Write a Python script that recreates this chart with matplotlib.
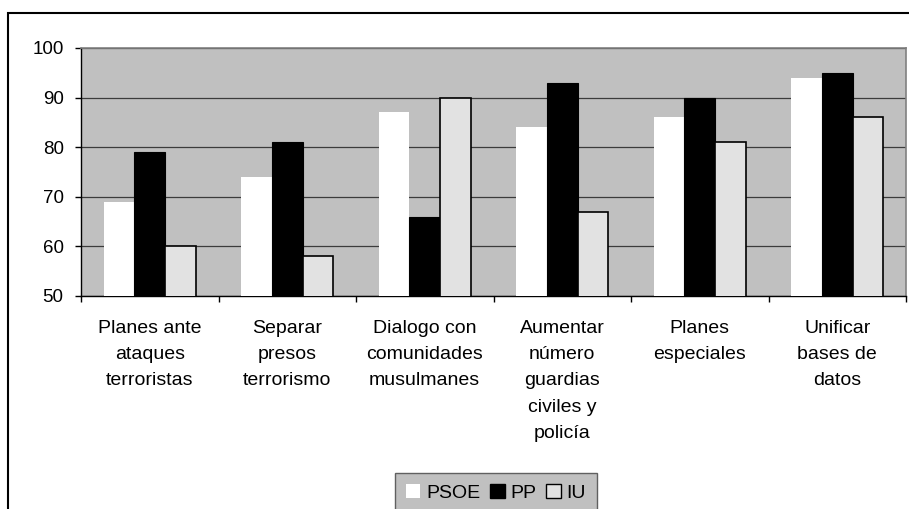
import numpy as np
import matplotlib.pyplot as plt
from matplotlib.patches import Patch, Rectangle

plt.rcParams['font.family'] = ['Liberation Sans', 'DejaVu Sans']

#%% Data
categorias = ['Planes ante\nataques\nterroristas',
              'Separar\npresos\nterrorismo',
              'Dialogo con\ncomunidades\nmusulmanes',
              'Aumentar\nnúmero\nguardias\nciviles y\npolicía',
              'Planes\nespeciales',
              'Unificar\nbases de\ndatos']
psoe = [69, 74, 87, 84, 86, 94]
pp = [79, 81, 66, 93, 90, 95]
iu = [60, 58, 90, 67, 81, 86]
partidos = ['PSOE', 'PP', 'IU']

#%% Figure
fig = plt.figure(figsize=(9.09, 5.09), dpi=100)
# outer chart border (cropped at right / bottom like the original)
fig.patches.append(Rectangle((8/909, -0.1), 1.1, 1 - 13/509 + 0.1, transform=fig.transFigure,
                             fill=False, edgecolor='black', linewidth=1.5, zorder=0))

ax = fig.add_axes([81/909, 1 - 296/509, 825/909, 248/509])
ax.set_facecolor('#c0c0c0')

x = np.arange(len(categorias))
w = 0.224
ax.bar(x - w, psoe, w, color='white', edgecolor='none', zorder=3)
ax.bar(x, pp, w, color='black', edgecolor='black', linewidth=0.8, zorder=3)
ax.bar(x + w, iu, w, color='#e2e2e2', edgecolor='black', linewidth=1.2, zorder=3)

ax.set_ylim(50, 100)
ax.set_xlim(-0.5, len(categorias) - 0.5)
ax.set_yticks(np.arange(50, 101, 10))
ax.yaxis.grid(True, color='#3c3c3c', linewidth=0.9, zorder=1)
ax.set_axisbelow(True)

ax.set_xticks(x)
ax.set_xticklabels(categorias, fontsize=14, linespacing=1.72, va='top')
ax.set_xticks(np.arange(-0.5, len(categorias)), minor=True)
ax.tick_params(axis='x', which='major', length=0, pad=17)
ax.tick_params(axis='x', which='minor', length=4.5, width=1, color='black', direction='out')
ax.tick_params(axis='y', length=4.5, width=1, pad=8, labelsize=13.5, color='black')

for s in ['left', 'bottom']:
    ax.spines[s].set_color('black')
    ax.spines[s].set_linewidth(1)
for s in ['top', 'right']:
    ax.spines[s].set_color('#808080')
    ax.spines[s].set_linewidth(1.2)

handles = [Patch(facecolor='white', edgecolor='none'),
           Patch(facecolor='black', edgecolor='black'),
           Patch(facecolor='#e2e2e2', edgecolor='black', linewidth=1)]
leg = fig.legend(handles, partidos, loc='upper left', bbox_to_anchor=(395/909, 1 - 473/509),
                 ncol=3, fontsize=14, frameon=True, fancybox=False,
                 handlelength=0.75, handleheight=0.75, handletextpad=0.3, columnspacing=0.5,
                 borderpad=0.55, borderaxespad=0)
leg.get_frame().set_facecolor('#c0c0c0')
leg.get_frame().set_edgecolor('#606060')
leg.get_frame().set_linewidth(1)
leg.get_frame().set_alpha(1)

fig.savefig('out.png', dpi=100)
